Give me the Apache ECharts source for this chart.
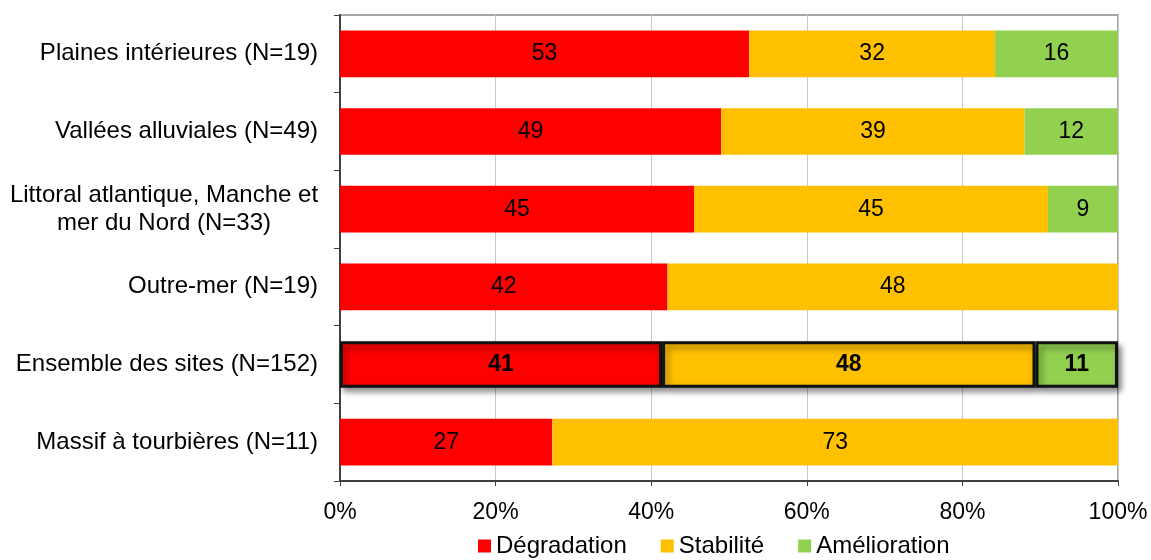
<!DOCTYPE html>
<html><head><meta charset="utf-8">
<script src="https://cdn.jsdelivr.net/npm/echarts@6/dist/echarts.min.js"></script>
<style>html,body{margin:0;padding:0;background:#fff}#c{width:1151px;height:560px}</style>
</head><body><div id="c"></div>
<script>
const categories = ["Plaines intérieures (N=19)", "Vallées alluviales (N=49)", "Littoral atlantique, Manche et\nmer du Nord (N=33)", "Outre-mer (N=19)", "Ensemble des sites (N=152)", "Massif à tourbières (N=11)"];
const seriesNames = ["Dégradation", "Stabilité", "Amélioration"];
const degradation = [52.6, 49, 45.5, 42.1, 41.4, 27.3];
const stabilite = [31.6, 39, 45.5, 57.9, 48.0, 72.7];
const amelioration = [15.8, 12, 9.0, 0, 10.6, 0];
const degradationLabels = ["53", "49", "45", "42", "41", "27"];
const stabiliteLabels = ["32", "39", "45", "48", "48", "73"];
const ameliorationLabels = ["16", "12", "9", "", "11", ""];
const xTicks = ["0%", "20%", "40%", "60%", "80%", "100%"];
const highlightIndex = 4;
const colors = ["#FF0000", "#FFC000", "#92D050"];
const FONT = "'Liberation Sans', Arial, sans-serif";

function mk(name, vals, labels, color) {
  return {
    name: name, type: 'bar', stack: 'total', barCategoryGap: '40%',
    itemStyle: { color: color },
    label: { show: true, position: 'inside', color: '#000', fontSize: 23, fontFamily: FONT,
      formatter: p => labels[p.dataIndex] },
    data: vals.map((v, i) => i === highlightIndex ? {
      value: v,
      itemStyle: { borderColor: '#111', borderWidth: 3, shadowBlur: 6, shadowColor: 'rgba(0,0,0,0.45)', shadowOffsetX: 3, shadowOffsetY: 4 },
      label: { fontWeight: 'bold' }
    } : v)
  };
}

const chart = echarts.init(document.getElementById('c'), null, { renderer: 'canvas' });
chart.setOption({
  animation: false,
  color: colors,
  grid: { left: 340, right: 33, top: 15, bottom: 79, show: true, borderColor: '#a6a6a6', borderWidth: 2, backgroundColor: 'transparent' },
  legend: {
    top: 531, left: 473, itemWidth: 13, itemHeight: 13, itemGap: 34, icon: 'rect', padding: [3, 5, 3, 5],
    textStyle: { fontSize: 24, fontFamily: FONT, color: '#000', padding: [0, 0, 0, 0] },
    data: seriesNames
  },
  xAxis: {
    type: 'value', min: 0, max: 100, interval: 20,
    axisLine: { show: true, lineStyle: { color: '#404040', width: 2 } },
    axisTick: { show: true, length: 5, lineStyle: { color: '#404040' } },
    axisLabel: { fontSize: 23, fontFamily: FONT, color: '#000', margin: 20,
      formatter: v => xTicks[Math.round(v / 20)] },
    splitLine: { show: true, lineStyle: { color: '#c8c8c8', width: 1 } }
  },
  yAxis: {
    type: 'category', inverse: true, data: categories,
    axisLine: { show: true, lineStyle: { color: '#404040', width: 2 } },
    axisTick: { show: true, length: 6, lineStyle: { color: '#404040' } },
    axisLabel: {
      fontSize: 24, fontFamily: FONT, color: '#000', margin: 22, lineHeight: 28,
      formatter: v => v.indexOf('\n') >= 0 ? v.split('\n').map(s => '{c|' + s + '}').join('\n') : v,
      rich: { c: { width: 308, align: 'center', fontSize: 24, fontFamily: FONT, color: '#000', lineHeight: 28 } }
    }
  },
  series: [
    mk(seriesNames[0], degradation, degradationLabels, colors[0]),
    mk(seriesNames[1], stabilite, stabiliteLabels, colors[1]),
    mk(seriesNames[2], amelioration, ameliorationLabels, colors[2])
  ]
});
</script></body></html>
